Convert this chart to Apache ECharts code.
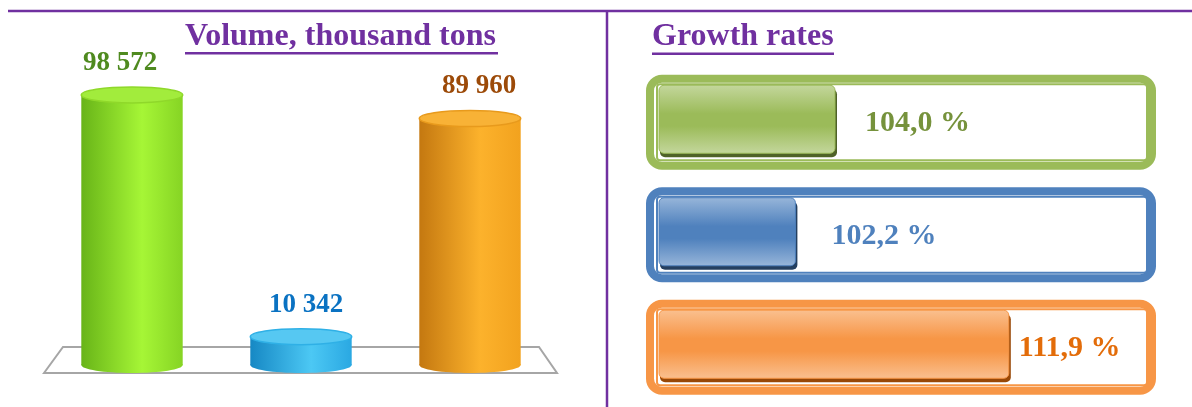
<!DOCTYPE html>
<html>
<head>
<meta charset="utf-8">
<title>Volume and growth rates</title>
<script src="https://cdn.jsdelivr.net/npm/echarts@6/dist/echarts.min.js"></script>
<style>
  html, body { margin: 0; padding: 0; background: #fff; }
  #chart { width: 1192px; height: 407px; }
</style>
</head>
<body>
<div id="chart"></div>
<script>
// data
const categories = ['Group 1', 'Group 2', 'Group 3']
const volumes = [98572, 10342, 89960] // thousand tons
const growthRates = [104.0, 102.2, 111.9] // %

const volumeTitle = 'Volume, thousand tons'
const growthTitle = 'Growth rates'

// styles
const purple = '#7030A0'
const serif = '"Liberation Serif", "Times New Roman", serif'
const cylColors = [
  { edge: '#68b418', bright: '#a6f636', right: '#86d424', top: '#a2ec3c', rim: '#8fd82a', label: '#4f8a1f' },
  { edge: '#1688c4', bright: '#4cc8f4', right: '#2aa8e2', top: '#56c8f2', rim: '#2fb0e6', label: '#0a72c2' },
  { edge: '#c47810', bright: '#fcb22c', right: '#f2a21e', top: '#f8b236', rim: '#e89a1c', label: '#9c4a08' }
]
const cylLabelDx = [-12, 5, 9]
const barColors = [
  { light: '#c4d79d', main: '#9bbb59', dark: '#4f6228', text: '#76923c' },
  { light: '#98b6da', main: '#4f81bd', dark: '#243f60', text: '#4f81bd' },
  { light: '#fac090', main: '#f79646', dark: '#984807', text: '#e36c09' }
]
const rateLabelGap = [30, 36, 10]
const rateMin = 96
const rateMax = 118

const fmtVolume = v => String(v).replace(/\B(?=(\d{3})+(?!\d))/g, ' ')
const fmtRate = v => v.toFixed(1).replace('.', ',') + ' %'

const chart = echarts.init(document.getElementById('chart'), null, { renderer: 'canvas' })

function renderCylinder (params, api) {
  const i = params.dataIndex
  const base = api.coord([api.value(0), 0])
  const top = api.coord([api.value(0), api.value(1)])
  const bw = api.size([1, 0])[0] * 0.6
  const rx = bw / 2
  const ry = 8
  const c = cylColors[i]
  const grad = new echarts.graphic.LinearGradient(0, 0, 1, 0, [
    { offset: 0, color: c.edge },
    { offset: 0.6, color: c.bright },
    { offset: 1, color: c.right }
  ])
  return {
    type: 'group',
    children: [
      { type: 'ellipse', shape: { cx: base[0], cy: base[1], rx: rx, ry: ry }, style: { fill: grad } },
      { type: 'rect', shape: { x: base[0] - rx, y: top[1], width: bw, height: base[1] - top[1] }, style: { fill: grad } },
      { type: 'ellipse', shape: { cx: top[0], cy: top[1], rx: rx, ry: ry }, style: { fill: c.top, stroke: c.rim, lineWidth: 1.5 } },
      {
        type: 'text',
        x: top[0] + cylLabelDx[i],
        y: top[1] - ry - 24,
        style: {
          text: fmtVolume(api.value(1)),
          font: 'bold 27px ' + serif,
          fill: c.label,
          align: 'center',
          verticalAlign: 'middle'
        }
      }
    ]
  }
}

function renderRate (params, api) {
  const i = params.dataIndex
  const cy = api.coord([rateMin, i])[1]
  const x0 = api.coord([rateMin, i])[0]
  const x1 = api.coord([rateMax, i])[0]
  const xv = api.coord([api.value(0), i])[0]
  const c = barColors[i]
  const fillGrad = new echarts.graphic.LinearGradient(0, 0, 0, 1, [
    { offset: 0, color: c.light },
    { offset: 0.42, color: c.main },
    { offset: 0.6, color: c.main },
    { offset: 1, color: c.light }
  ])
  return {
    type: 'group',
    children: [
      { // outer thick frame
        type: 'rect',
        shape: { x: x0 - 9, y: cy - 43.5, width: x1 - x0 + 18, height: 87, r: 12 },
        style: { fill: '#fff', stroke: c.main, lineWidth: 8 }
      },
      { // inner thin frame
        type: 'rect',
        shape: { x: x0 - 2, y: cy - 38, width: x1 - x0 + 6, height: 76, r: 3 },
        style: { fill: '#fff', stroke: c.main, lineWidth: 2 }
      },
      { // shadow of the fill
        type: 'rect',
        shape: { x: x0 + 1, y: cy - 33, width: xv - x0 + 1, height: 68, r: 5 },
        style: { fill: c.dark }
      },
      { // fill
        type: 'rect',
        shape: { x: x0, y: cy - 37, width: xv - x0, height: 68, r: 5 },
        style: { fill: fillGrad, stroke: c.main, lineWidth: 1 }
      },
      {
        type: 'text',
        x: xv + rateLabelGap[i],
        y: cy + 1,
        style: {
          text: fmtRate(api.value(0)),
          font: 'bold 30px ' + serif,
          fill: c.text,
          align: 'left',
          verticalAlign: 'middle'
        }
      }
    ]
  }
}

const option = {
  animation: false,
  backgroundColor: '#fff',
  grid: [
    { left: 47.5, width: 507, top: 91, height: 274 },
    { left: 659, width: 484, top: 66, height: 337.5 }
  ],
  xAxis: [
    { gridIndex: 0, type: 'category', data: categories, show: false },
    { gridIndex: 1, type: 'value', min: rateMin, max: rateMax, show: false }
  ],
  yAxis: [
    { gridIndex: 0, type: 'value', min: 0, max: 100000, show: false },
    { gridIndex: 1, type: 'category', data: categories, inverse: true, show: false }
  ],
  graphic: [
    { type: 'line', shape: { x1: 8, y1: 11, x2: 1192, y2: 11 }, style: { stroke: purple, lineWidth: 2.5 } },
    { type: 'line', shape: { x1: 607, y1: 11, x2: 607, y2: 407 }, style: { stroke: purple, lineWidth: 2.5 } },
    {
      type: 'text', left: 185, top: 21,
      style: { text: volumeTitle, font: 'bold 32px ' + serif, fill: purple }
    },
    { type: 'rect', shape: { x: 185, y: 52, width: 313, height: 2.5 }, style: { fill: purple } },
    {
      type: 'text', left: 652, top: 21,
      style: { text: growthTitle, font: 'bold 32px ' + serif, fill: purple }
    },
    { type: 'rect', shape: { x: 652, y: 52.5, width: 182, height: 2.5 }, style: { fill: purple } },
    { // floor under the cylinders
      type: 'polygon',
      z: -1,
      shape: { points: [[44, 373], [63, 347], [539, 347], [557, 373]] },
      style: { fill: '#fff', stroke: '#a6a6a6', lineWidth: 2 }
    }
  ],
  series: [
    {
      type: 'custom',
      xAxisIndex: 0,
      yAxisIndex: 0,
      z: 5,
      renderItem: renderCylinder,
      encode: { x: 0, y: 1 },
      data: volumes.map((v, i) => [i, v])
    },
    {
      type: 'custom',
      xAxisIndex: 1,
      yAxisIndex: 1,
      renderItem: renderRate,
      encode: { x: 0, y: 1 },
      data: growthRates.map((v, i) => [v, i])
    }
  ]
}

chart.setOption(option)
</script>
</body>
</html>
